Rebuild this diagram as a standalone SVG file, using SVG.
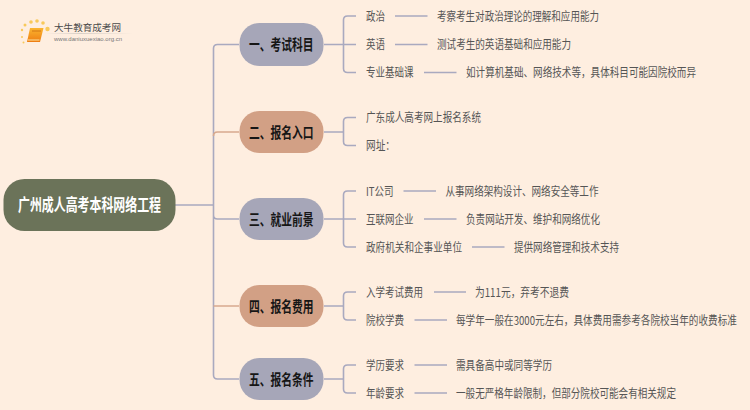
<svg xmlns="http://www.w3.org/2000/svg" width="750" height="410" viewBox="0 0 750 410">
<defs>
<linearGradient id="book" x1="0" y1="0" x2="0" y2="1"><stop offset="0" stop-color="#fbb52f"/><stop offset="1" stop-color="#ee7d12"/></linearGradient>
<linearGradient id="fade" x1="0" y1="0" x2="1" y2="0"><stop offset="0" stop-color="#d8d0c8" stop-opacity="0"/><stop offset="0.4" stop-color="#d8d0c8"/><stop offset="1" stop-color="#d8d0c8" stop-opacity="0"/></linearGradient>
</defs>
<style>
text{font-family:"Noto Sans CJK SC","Liberation Sans",sans-serif}
.leaf{font-size:12px;fill:#555}
.branch{font-size:15px;font-weight:700;fill:#161616}
.root{font-size:16.5px;font-weight:700;fill:#fff}
.c{fill:none;stroke:#a9a9bf;stroke-width:1.6}
.o{fill:none;stroke:#d8a98e;stroke-width:1.6}
.blue{fill:#a6a6b8}
.tan{fill:#d2a085}
</style>
<rect width="750" height="410" fill="#feeee0"/>
<g id="logo">
<g fill="#f8c95a"><circle cx="22" cy="30" r="1.2"/><circle cx="25" cy="25" r="1.5"/><circle cx="31" cy="22" r="1.8"/><circle cx="37" cy="21" r="1.8"/><circle cx="43" cy="23" r="1.8"/><circle cx="47.500" cy="29" r="2.200"/><circle cx="22" cy="37" r="1"/><circle cx="23.500" cy="42.500" r="1"/></g>
<path d="M30 28H43.500L40 42H27z" fill="url(#book)"/><path d="M28 40H39.500" stroke="#fde3a0" stroke-width="1"/><path d="M32 31H41" stroke="#c96a10" stroke-width="0.800"/>
<text x="54" y="31" font-size="9.500" fill="#4a4a4a" textLength="67" lengthAdjust="spacingAndGlyphs">大牛教育成考网</text>
<rect x="45" y="33" width="88" height="1" fill="url(#fade)"/>
<text x="54" y="41" font-size="6" fill="#777" textLength="68" lengthAdjust="spacingAndGlyphs" style="font-family:'Liberation Sans',sans-serif">www.daniuxuexiao.org.cn</text>
</g>
<g id="connectors">
<path class="c" d="M175 205H213.500M239 44.500H217.500Q213.500 44.500 213.500 48.500V375Q213.500 379 217.500 379H239M213.500 215Q213.500 219 217.500 219H239"/>
<path class="o" d="M213.500 136Q213.500 132 217.500 132H239M213.500 306H239"/>
<path class="c" d="M324 44.500H356M356 16H347.500Q343.500 16 343.500 20V68.500Q343.500 72.500 347.500 72.500H356"/>
<path class="c" d="M324 132H343.500M356 117.500H347.500Q343.500 117.500 343.500 121.500V141.500Q343.500 145.500 347.500 145.500H356"/>
<path class="c" d="M324 219H356M356 191H347.500Q343.500 191 343.500 195V243Q343.500 247 347.500 247H356"/>
<path class="c" d="M324 306H343.500M356 292H347.500Q343.500 292 343.500 296V316Q343.500 320 347.500 320H356"/>
<path class="c" d="M324 379H343.500M356 365H347.500Q343.500 365 343.500 369V389Q343.500 393 347.500 393H356"/>
<path class="c" d="M395 16H427.500M395 44.500H427.500M424 72.500H456.500M403.500 191H436M424 219H456.500M472 247H504.500M434 292H466M414.500 320H447M414.500 365H447M414.500 393H447"/>
</g>
<g id="root"><rect x="3.500" y="179" width="172" height="52" rx="21" fill="#6b7359"/><text class="root" x="18" y="210.500" textLength="143" lengthAdjust="spacingAndGlyphs">广州成人高考本科网络工程</text></g>
<g id="n1"><rect class="blue" x="239.500" y="23" width="84" height="43" rx="20"/><text class="branch" x="249" y="50" textLength="64.500" lengthAdjust="spacingAndGlyphs">一、考试科目</text></g>
<g id="n2"><rect class="tan" x="239.500" y="111" width="84" height="42" rx="20"/><text class="branch" x="249" y="137.500" textLength="64.500" lengthAdjust="spacingAndGlyphs">二、报名入口</text></g>
<g id="n3"><rect class="blue" x="239.500" y="198" width="84" height="42" rx="20"/><text class="branch" x="249" y="224.500" textLength="64.500" lengthAdjust="spacingAndGlyphs">三、就业前景</text></g>
<g id="n4"><rect class="tan" x="239.500" y="285" width="84" height="42" rx="20"/><text class="branch" x="249" y="311.500" textLength="64.500" lengthAdjust="spacingAndGlyphs">四、报名费用</text></g>
<g id="n5"><rect class="blue" x="239.500" y="358" width="84" height="42" rx="20"/><text class="branch" x="249" y="384.500" textLength="64.500" lengthAdjust="spacingAndGlyphs">五、报名条件</text></g>
<g id="l1"><text class="leaf" x="366" y="20.500" textLength="19" lengthAdjust="spacingAndGlyphs">政治</text><text class="leaf" x="437" y="20.500" textLength="162" lengthAdjust="spacingAndGlyphs">考察考生对政治理论的理解和应用能力</text></g>
<g id="l2"><text class="leaf" x="366" y="49" textLength="19" lengthAdjust="spacingAndGlyphs">英语</text><text class="leaf" x="437" y="49" textLength="134" lengthAdjust="spacingAndGlyphs">测试考生的英语基础和应用能力</text></g>
<g id="l3"><text class="leaf" x="366" y="77" textLength="47.500" lengthAdjust="spacingAndGlyphs">专业基础课</text><text class="leaf" transform="translate(466 77) scale(.8 1)" textLength="287.500" lengthAdjust="spacingAndGlyphs">如计算机基础、网络技术等，具体科目可能因院校而异</text></g>
<g id="l4"><text class="leaf" x="366" y="122" textLength="115" lengthAdjust="spacingAndGlyphs">广东成人高考网上报名系统</text></g>
<g id="l5"><text class="leaf" x="366" y="150" textLength="29" lengthAdjust="spacingAndGlyphs">网址：</text></g>
<g id="l6"><text class="leaf" x="366" y="195.500" textLength="27.500" lengthAdjust="spacingAndGlyphs">IT公司</text><text class="leaf" x="445.500" y="195.500" textLength="153" lengthAdjust="spacingAndGlyphs">从事网络架构设计、网络安全等工作</text></g>
<g id="l7"><text class="leaf" x="366" y="223.500" textLength="47.500" lengthAdjust="spacingAndGlyphs">互联网企业</text><text class="leaf" x="466" y="223.500" textLength="134" lengthAdjust="spacingAndGlyphs">负责网站开发、维护和网络优化</text></g>
<g id="l8"><text class="leaf" x="366" y="251.500" textLength="96" lengthAdjust="spacingAndGlyphs">政府机关和企事业单位</text><text class="leaf" x="514" y="251.500" textLength="105" lengthAdjust="spacingAndGlyphs">提供网络管理和技术支持</text></g>
<g id="l9"><text class="leaf" x="366" y="296.500" textLength="57" lengthAdjust="spacingAndGlyphs">入学考试费用</text><text class="leaf" x="475" y="296.500" textLength="94" lengthAdjust="spacingAndGlyphs">为111元，弃考不退费</text></g>
<g id="l10"><text class="leaf" x="366" y="324.500" textLength="38" lengthAdjust="spacingAndGlyphs">院校学费</text><text class="leaf" transform="translate(456 324.500) scale(.776 1)" textLength="362" lengthAdjust="spacingAndGlyphs">每学年一般在3000元左右，具体费用需参考各院校当年的收费标准</text></g>
<g id="l11"><text class="leaf" x="366" y="369.500" textLength="38" lengthAdjust="spacingAndGlyphs">学历要求</text><text class="leaf" x="456" y="369.500" textLength="96" lengthAdjust="spacingAndGlyphs">需具备高中或同等学历</text></g>
<g id="l12"><text class="leaf" x="366" y="397.500" textLength="38" lengthAdjust="spacingAndGlyphs">年龄要求</text><text class="leaf" x="456" y="397.500" textLength="220" lengthAdjust="spacingAndGlyphs">一般无严格年龄限制，但部分院校可能会有相关规定</text></g>
</svg>
